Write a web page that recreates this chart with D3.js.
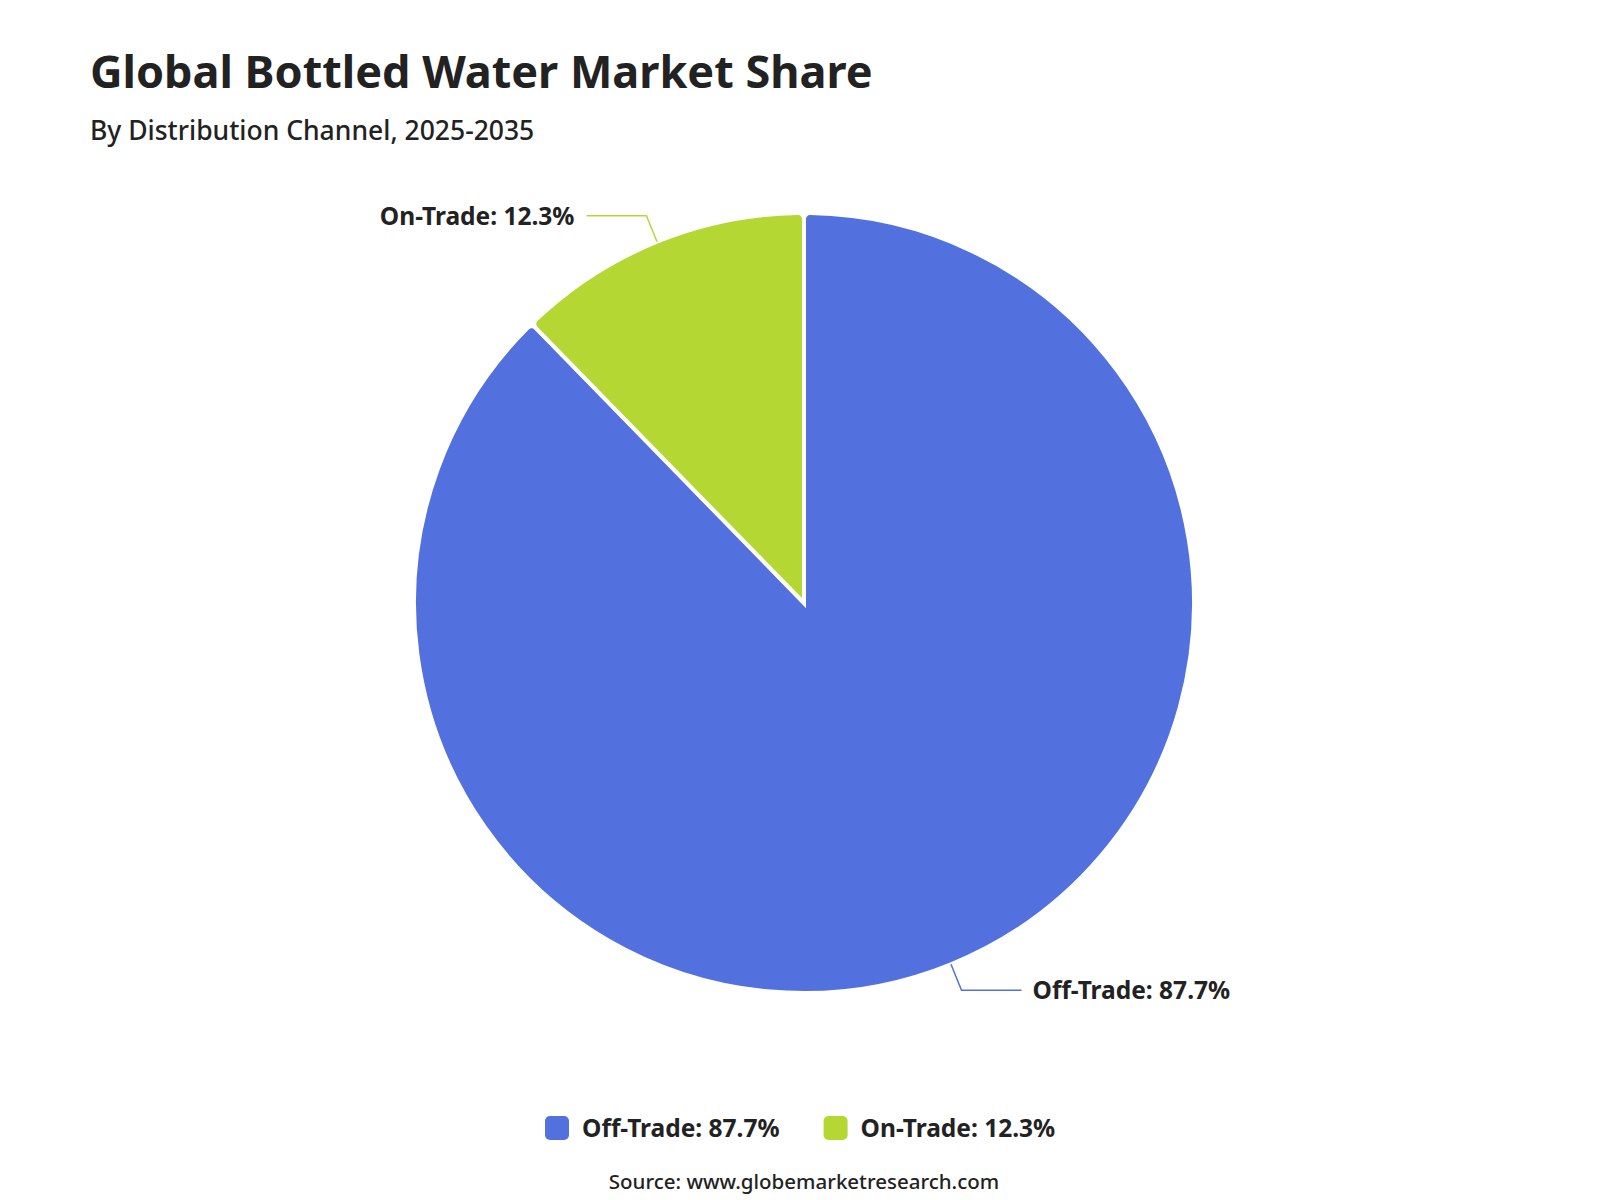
<!DOCTYPE html>
<html><head><meta charset="utf-8">
<script src="https://cdn.jsdelivr.net/npm/d3@7"></script>
<style>body{margin:0;background:#fff;font-family:"Noto Sans",sans-serif;}</style>
</head><body>
<svg id="chart" width="1600" height="1200"></svg>
<script>
// Market share by distribution channel
const categories = ['Off-Trade', 'On-Trade'];
const shares = [87.7, 12.3];
const colors = ['#5271df', '#b5d733'];

const data = categories.map((c, i) => ({ name: c, value: shares[i], color: colors[i] }));
const svg = d3.select('#chart');
const cx = 804, cy = 603, r = 390;

svg.append('text').attr('x', 90).attr('y', 88).attr('font-size', '45px').attr('font-weight', 700)
    .attr('fill', '#222').text('Global Bottled Water Market Share');
svg.append('text').attr('x', 90).attr('y', 140).attr('font-size', '26.5px').attr('font-weight', 500)
    .attr('fill', '#222').text('By Distribution Channel, 2025-2035');

const pie = d3.pie().value(d => d.value).sort(null);
const arcs = pie(data);
const arc = d3.arc().innerRadius(0).outerRadius(r).cornerRadius(6);
const g = svg.append('g').attr('transform', `translate(${cx},${cy})`);

g.selectAll('path').data(arcs).enter().append('path')
    .attr('d', arc).attr('fill', d => d.data.color)
    .attr('stroke', '#fff').attr('stroke-width', 4);

// Leader lines and labels
arcs.forEach(d => {
    const a = (d.startAngle + d.endAngle) / 2;
    const p0 = [r * Math.sin(a), -r * Math.cos(a)];
    const p1 = [(r + 28) * Math.sin(a), -(r + 28) * Math.cos(a)];
    const right = Math.sin(a) > 0;
    const p2 = [p1[0] + (right ? 60 : -60), p1[1]];
    g.append('polyline').attr('points', [p0, p1, p2].map(p => p.join(',')).join(' '))
        .attr('fill', 'none').attr('stroke', d.data.color).attr('stroke-width', 1.5);
    g.append('text').attr('x', p2[0] + (right ? 11 : -12)).attr('y', p2[1] + 9)
        .attr('text-anchor', right ? 'start' : 'end')
        .attr('font-size', '24.5px').attr('font-weight', 700).attr('fill', '#222')
        .text(`${d.data.name}: ${d.data.value}%`);
});

// Legend
const legend = svg.append('g').attr('transform', 'translate(545,1128)');
let lx = 0;
data.forEach(d => {
    const item = legend.append('g').attr('transform', `translate(${lx},0)`);
    item.append('rect').attr('x', 0).attr('y', -12).attr('width', 24).attr('height', 24)
        .attr('rx', 5).attr('fill', d.color);
    const t = item.append('text').attr('x', 37).attr('y', 9).attr('font-size', '24.5px')
        .attr('font-weight', 700).attr('fill', '#222').text(`${d.name}: ${d.value}%`);
    lx += 37 + t.node().getComputedTextLength() + 44;
});

svg.append('text').attr('x', 804).attr('y', 1189).attr('text-anchor', 'middle')
    .attr('font-size', '20.5px').attr('font-weight', 500).attr('fill', '#222')
    .text('Source: www.globemarketresearch.com');
</script>
</body></html>
